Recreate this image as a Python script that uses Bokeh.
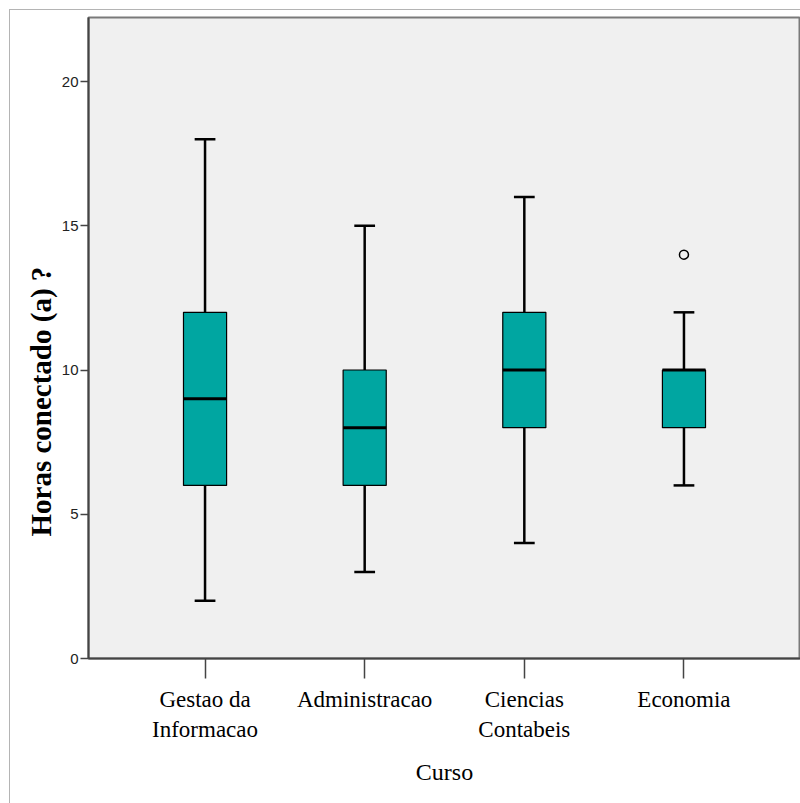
from bokeh.embed import file_html
from bokeh.models import (ColumnDataSource, FactorRange, FixedTicker, InlineStyleSheet,
                          Label, Range1d, Title)
from bokeh.plotting import figure
from bokeh.resources import INLINE
from bokeh.transform import dodge

# Hours connected per course: five-number summaries for each box
cursos = ["Gestao da\nInformacao", "Administracao", "Ciencias\nContabeis", "Economia"]
minimo = [2, 3, 4, 6]
q1 = [6, 6, 8, 8]
mediana = [9, 8, 10, 10]
q3 = [12, 10, 12, 10]
maximo = [18, 15, 16, 12]

# Outlying observations
outlier_curso = ["Economia"]
outlier_horas = [14]

y_ticks = [0, 5, 10, 15, 20]

SERIF = "Liberation Serif"
SANS = "Liberation Sans"
TEAL = "#00A6A1"

src = ColumnDataSource(dict(curso=cursos, minimo=minimo, q1=q1,
                            mediana=mediana, q3=q3, maximo=maximo))

# thin grey border around the whole chart area
frame_css = InlineStyleSheet(css="""
:host::after {
  content: "";
  position: absolute;
  left: 9px; top: 9px; right: 0; bottom: 0;
  border-left: 1px solid #b4b4b4;
  border-top: 1px solid #b4b4b4;
  pointer-events: none;
}
""")

p = figure(
    width=800, height=803,
    x_range=FactorRange(*cursos, range_padding=0.23, range_padding_units="absolute"),
    y_range=Range1d(0, 22.22),
    output_backend="svg", toolbar_location=None,
    min_border_left=88, min_border_right=0, min_border_top=17, min_border_bottom=145,
    stylesheets=[frame_css],
)
p.background_fill_color = "#f0f0f0"
p.border_fill_color = "white"
p.outline_line_color = "#7a7a7a"
p.outline_line_width = 2
p.xgrid.visible = False
p.ygrid.visible = False

# whisker stems
p.segment(x0="curso", y0="minimo", x1="curso", y1="q1", source=src,
          line_color="black", line_width=2.5)
p.segment(x0="curso", y0="q3", x1="curso", y1="maximo", source=src,
          line_color="black", line_width=2.5)
# whisker caps
for col in ("minimo", "maximo"):
    p.segment(x0=dodge("curso", -0.065, range=p.x_range), y0=col,
              x1=dodge("curso", 0.065, range=p.x_range), y1=col, source=src,
              line_color="black", line_width=2.5)
# interquartile boxes
p.vbar(x="curso", width=0.27, bottom="q1", top="q3", source=src,
       fill_color=TEAL, line_color="black", line_width=1.2)
# medians
p.segment(x0=dodge("curso", -0.135, range=p.x_range), y0="mediana",
          x1=dodge("curso", 0.135, range=p.x_range), y1="mediana", source=src,
          line_color="black", line_width=3)
# outliers
p.scatter(x=outlier_curso, y=outlier_horas, marker="circle", size=9,
          fill_color=None, line_color="black", line_width=1.5)

# axes
xa = p.xaxis[0]
xa.axis_label = "Curso"
xa.axis_label_text_font = SERIF
xa.axis_label_text_font_style = "normal"
xa.axis_label_text_font_size = "24px"
xa.axis_label_text_color = "black"
xa.axis_label_standoff = 14
xa.major_label_text_font = SERIF
xa.major_label_text_font_size = "23px"
xa.major_label_text_color = "black"
xa.major_label_standoff = 8
xa.major_tick_out = 20
xa.major_tick_in = 0
xa.major_tick_line_color = "#444444"
xa.major_tick_line_width = 1.5
xa.axis_line_color = "#444444"
xa.axis_line_width = 2

ya = p.yaxis[0]
ya.ticker = FixedTicker(ticks=y_ticks)
ya.major_label_text_font = SANS
ya.major_label_text_font_size = "15px"
ya.major_label_text_color = "#222222"
ya.major_label_standoff = 2
ya.major_tick_out = 8
ya.major_tick_in = 0
ya.minor_tick_line_color = None
ya.major_tick_line_color = "#444444"
ya.major_tick_line_width = 1.5
ya.axis_line_color = "#444444"
ya.axis_line_width = 2

# vertical axis title, starting some way above the bottom of the frame
p.add_layout(Title(text="Horas conectado (a) ?", align="left", offset=122,
                   text_font=SERIF, text_font_style="bold",
                   text_font_size="29px", text_color="black", standoff=4), "left")

# chart heading, mostly above the top edge of the page
p.add_layout(Label(x=374, y=655, x_units="screen", y_units="screen",
                   text="GRÁFICO 3 - TEMPO CONECTADO POR CURSO",
                   text_align="center", text_baseline="alphabetic",
                   text_font=SERIF, text_font_style="bold",
                   text_font_size="18px", text_color="black"))

open("out.html", "w").write(file_html(p, INLINE))
